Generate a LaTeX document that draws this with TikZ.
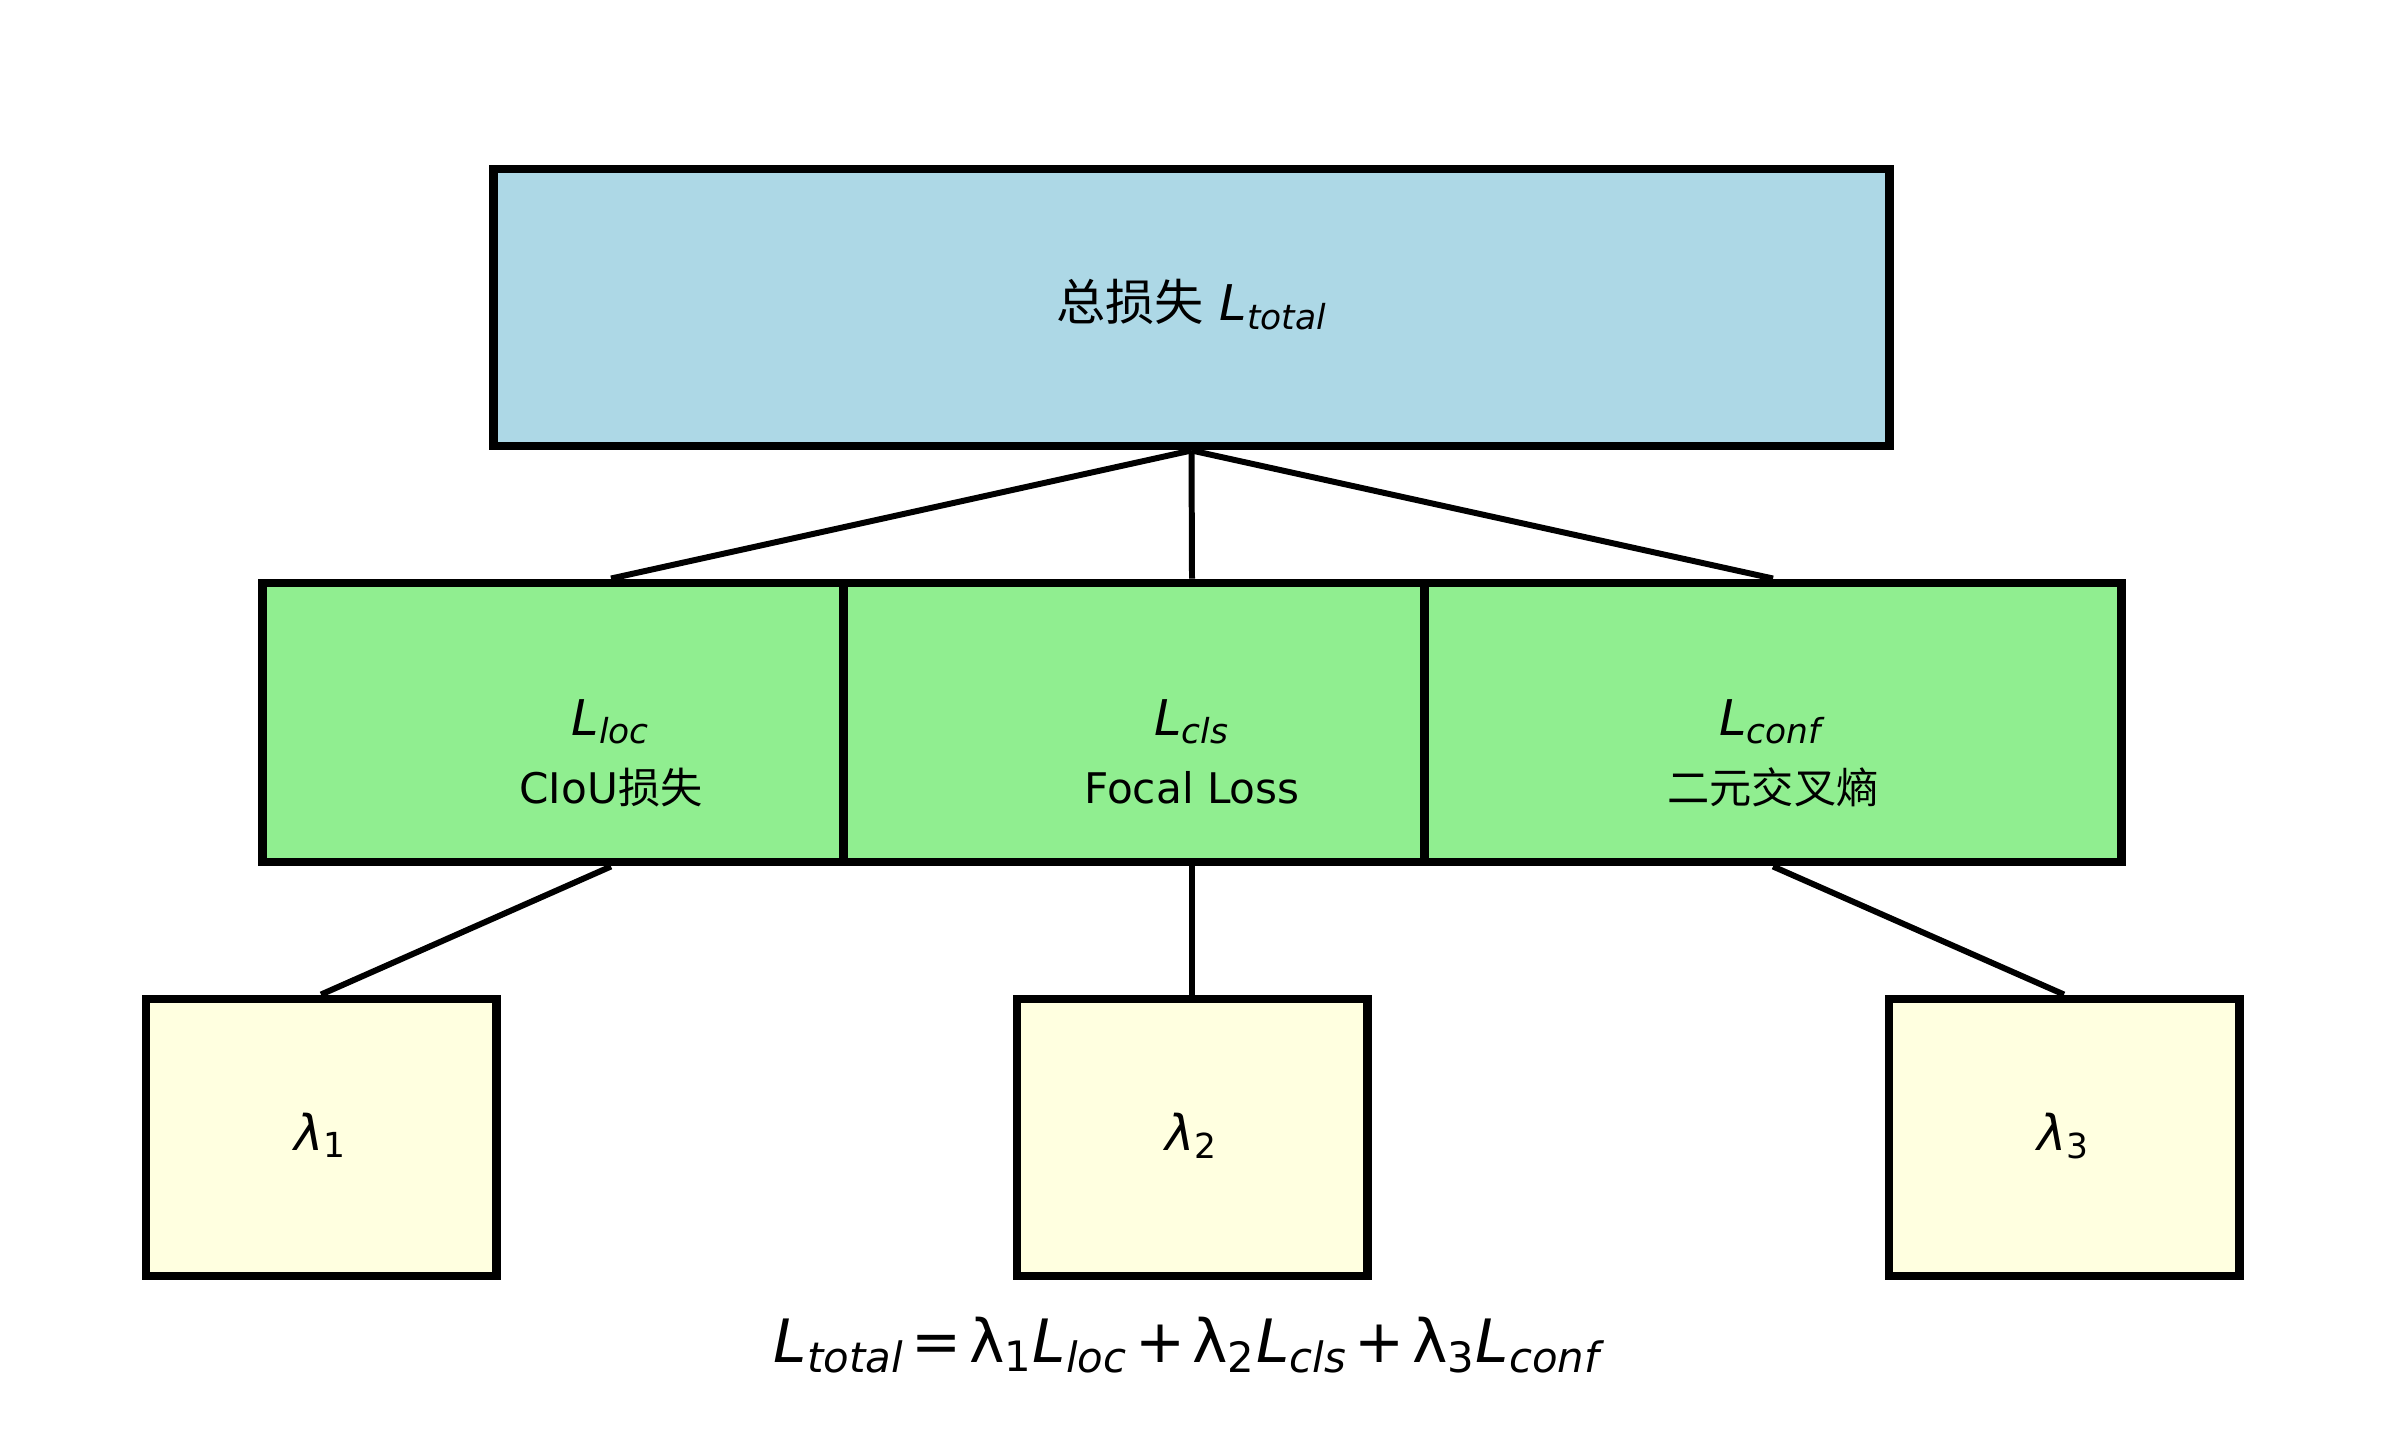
\documentclass[tikz,border=0pt]{standalone}
\usepackage{fontspec}
\setmainfont{DejaVu Sans}
\newfontfamily\cjk{Noto Sans CJK SC}

\definecolor{totalblue}{RGB}{173,216,230}
\definecolor{partgreen}{RGB}{144,238,144}
\definecolor{weightyellow}{RGB}{255,255,224}

\newcommand{\Lsub}[1]{\textit{L}\textsubscript{\textit{#1}}}
\newcommand{\lamsub}[1]{\textit{λ}\textsubscript{#1}}
\newcommand{\opgap}{\hspace{0.12em}}

\tikzset{every picture/.style={line width=1.7pt}}
\tikzset{
	lossbox/.style={draw=black, line width=2.5pt, inner sep=0pt},
	topbox/.style={lossbox, fill=totalblue, minimum width=13.95cm, minimum height=2.77cm},
	partbox/.style={lossbox, fill=partgreen, minimum width=6.97cm, minimum height=2.79cm},
	weightbox/.style={lossbox, fill=weightyellow, minimum width=3.50cm, minimum height=2.77cm},
	bigtext/.style={anchor=base, inner sep=0pt, font=\fontsize{14}{17}\selectfont},
	smalltext/.style={anchor=base, inner sep=0pt, font=\fontsize{12}{14}\selectfont},
	eqtext/.style={anchor=base, inner sep=0pt, font=\fontsize{17}{20}\selectfont},
	link/.style={draw=black, line width=1.7pt}
}

\begin{document}
\begin{tikzpicture}[x=0.01cm,y=0.01cm,yscale=-1,xscale=1]
	\useasboundingbox (0,0) rectangle (2385,1446);
	
	%Top box
	\node [topbox] (total) at (1191.5,307.5) {};
	%Part boxes
	\node [partbox] (loc) at (611,722.5) {};
	\node [partbox] (cls) at (1192,722.5) {};
	\node [partbox] (conf) at (1773,722.5) {};
	%Weight boxes
	\node [weightbox] (w1) at (321,1137.5) {};
	\node [weightbox] (w2) at (1192,1137.5) {};
	\node [weightbox] (w3) at (2064,1137.5) {};
	
	%Links
	\draw [link] (total.south) -- (loc.north);
	\draw [link] (total.south) -- (cls.north);
	\draw [link] (total.south) -- (conf.north);
	\draw [link] (loc.south) -- (w1.north);
	\draw [link] (cls.south) -- (w2.north);
	\draw [link] (conf.south) -- (w3.north);
	
	% Text Node
	\node [bigtext] (totallbl) at (1192,321) {{\cjk 总损失} \Lsub{total}};
	% Text Node
	\node [bigtext] (loclbl) at (611,735) {\Lsub{loc}};
	\node [smalltext] (locname) at (611,803) {CIoU{\cjk 损失}};
	% Text Node
	\node [bigtext] (clslbl) at (1192,735) {\Lsub{cls}};
	\node [smalltext] (clsname) at (1192,803) {Focal Loss};
	% Text Node
	\node [bigtext] (conflbl) at (1773,735) {\Lsub{conf}};
	\node [smalltext] (confname) at (1773,803) {\cjk 二元交叉熵};
	% Text Node
	\node [bigtext] (w1lbl) at (321,1150) {\lamsub{1}};
	\node [bigtext] (w2lbl) at (1192,1150) {\lamsub{2}};
	\node [bigtext] (w3lbl) at (2064,1150) {\lamsub{3}};
	% Text Node
	\node [eqtext] (sumlbl) at (1190,1362) {\Lsub{total}\opgap=\opgap λ\textsubscript{1}\Lsub{loc}\opgap+\opgap λ\textsubscript{2}\Lsub{cls}\opgap+\opgap λ\textsubscript{3}\Lsub{conf}};
\end{tikzpicture}
\end{document}
